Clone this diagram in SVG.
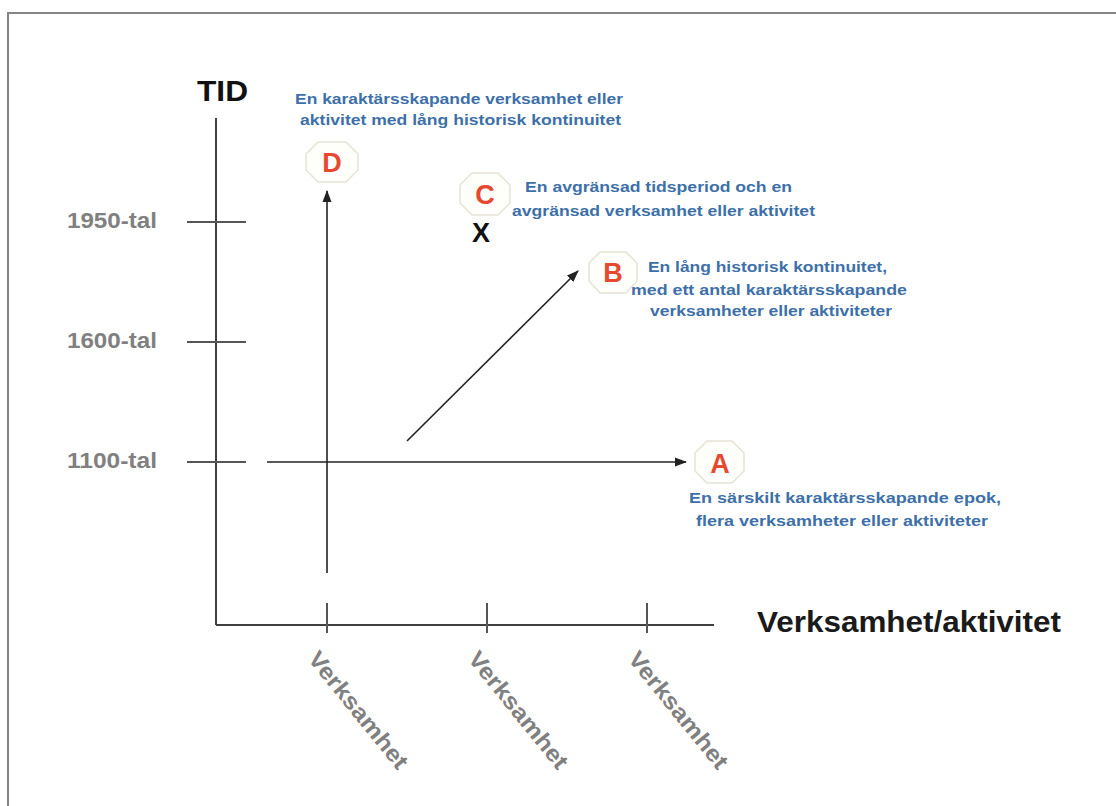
<svg xmlns="http://www.w3.org/2000/svg" width="1116" height="806" viewBox="0 0 1116 806">
<style>
.ax{stroke:#404040;stroke-width:2;fill:none}
.tk{stroke:#555;stroke-width:2}
.yr{font-family:"Liberation Sans",Arial,sans-serif;font-weight:bold;font-size:22px;fill:#808080}
.bl{font-family:"Liberation Sans",Arial,sans-serif;font-weight:bold;font-size:15.5px;fill:#3d70a8}
.oct{fill:#fefefb;stroke:#e6e3d6;stroke-width:1.5}
.let{font-family:"Liberation Sans",Arial,sans-serif;font-weight:bold;font-size:27px;fill:#e5492f;text-anchor:middle}
.vk{font-family:"Liberation Sans",Arial,sans-serif;font-weight:bold;font-size:23px;fill:#808080}
.arr{stroke:#222;stroke-width:1.6;fill:none}
</style>
<defs>
<marker id="ah" markerWidth="12" markerHeight="10" refX="11" refY="5" orient="auto" markerUnits="userSpaceOnUse">
<path d="M0,0.5 L12,5 L0,9.5 Z" fill="#222"/>
</marker>
</defs>
<rect x="0" y="0" width="1116" height="806" fill="#fff"/>
<rect x="8" y="13" width="1120" height="810" fill="none" stroke="#858585" stroke-width="2"/>
<g id="axes">
<line class="ax" x1="216" y1="118" x2="216" y2="625"/>
<line class="ax" x1="216" y1="625" x2="714" y2="625"/>
<line class="tk" x1="187" y1="222" x2="246" y2="222"/>
<line class="tk" x1="187" y1="342" x2="246" y2="342"/>
<line class="tk" x1="187" y1="462" x2="246" y2="462"/>
<line class="tk" x1="327" y1="603" x2="327" y2="633"/>
<line class="tk" x1="487" y1="603" x2="487" y2="633"/>
<line class="tk" x1="647" y1="603" x2="647" y2="633"/>
<text x="197" y="101" font-family="Liberation Sans,Arial,sans-serif" font-weight="bold" font-size="30" fill="#111" textLength="51" lengthAdjust="spacingAndGlyphs">TID</text>
<text class="yr" x="67" y="228" textLength="90" lengthAdjust="spacingAndGlyphs">1950-tal</text>
<text class="yr" x="67" y="348" textLength="90" lengthAdjust="spacingAndGlyphs">1600-tal</text>
<text class="yr" x="67" y="468" textLength="90" lengthAdjust="spacingAndGlyphs">1100-tal</text>
<text x="757" y="632" font-family="Liberation Sans,Arial,sans-serif" font-weight="bold" font-size="30" fill="#1a1a1a" textLength="304" lengthAdjust="spacingAndGlyphs">Verksamhet/aktivitet</text>
<text class="vk" transform="translate(307,659) rotate(51)" textLength="144" lengthAdjust="spacingAndGlyphs">Verksamhet</text>
<text class="vk" transform="translate(467,659) rotate(51)" textLength="144" lengthAdjust="spacingAndGlyphs">Verksamhet</text>
<text class="vk" transform="translate(627,659) rotate(51)" textLength="144" lengthAdjust="spacingAndGlyphs">Verksamhet</text>
</g>
<g id="connectors">
<line class="arr" x1="267" y1="462" x2="686" y2="462" marker-end="url(#ah)"/>
<line class="arr" x1="327" y1="573" x2="327" y2="191" marker-end="url(#ah)"/>
<line class="arr" x1="407" y1="441" x2="578" y2="271" marker-end="url(#ah)"/>
</g>
<g id="nodeD">
<polygon class="oct" points="318,142 346,142 358,154 358,170 346,182 318,182 306,170 306,154"/>
<text class="let" x="332" y="172">D</text>
<text class="bl" x="295" y="104" textLength="328" lengthAdjust="spacingAndGlyphs">En karaktärsskapande verksamhet eller</text>
<text class="bl" x="300" y="125" textLength="321" lengthAdjust="spacingAndGlyphs">aktivitet med lång historisk kontinuitet</text>
</g>
<g id="nodeC">
<polygon class="oct" points="472,173 498,173 510,185 510,203 498,215 472,215 460,203 460,185"/>
<text class="let" x="485" y="204">C</text>
<text class="bl" x="525" y="192" textLength="267" lengthAdjust="spacingAndGlyphs">En avgränsad tidsperiod och en</text>
<text class="bl" x="512" y="216" textLength="303" lengthAdjust="spacingAndGlyphs">avgränsad verksamhet eller aktivitet</text>
<text x="481" y="242" font-family="Liberation Sans,Arial,sans-serif" font-weight="bold" font-size="27" fill="#111" text-anchor="middle">X</text>
</g>
<g id="nodeB">
<polygon class="oct" points="600,252 626,252 637,263 637,281 626,293 600,293 589,281 589,263"/>
<text class="let" x="613" y="282">B</text>
<text class="bl" x="648" y="272" textLength="239" lengthAdjust="spacingAndGlyphs">En lång historisk kontinuitet,</text>
<text class="bl" x="631" y="295" textLength="276" lengthAdjust="spacingAndGlyphs">med ett antal karaktärsskapande</text>
<text class="bl" x="650" y="316" textLength="242" lengthAdjust="spacingAndGlyphs">verksamheter eller aktiviteter</text>
</g>
<g id="nodeA">
<polygon class="oct" points="707,441 732,441 744,453 744,471 732,483 707,483 695,471 695,453"/>
<text class="let" x="720" y="473">A</text>
<text class="bl" x="689" y="503" textLength="312" lengthAdjust="spacingAndGlyphs">En särskilt karaktärsskapande epok,</text>
<text class="bl" x="696" y="526" textLength="292" lengthAdjust="spacingAndGlyphs">flera verksamheter eller aktiviteter</text>
</g>
</svg>
